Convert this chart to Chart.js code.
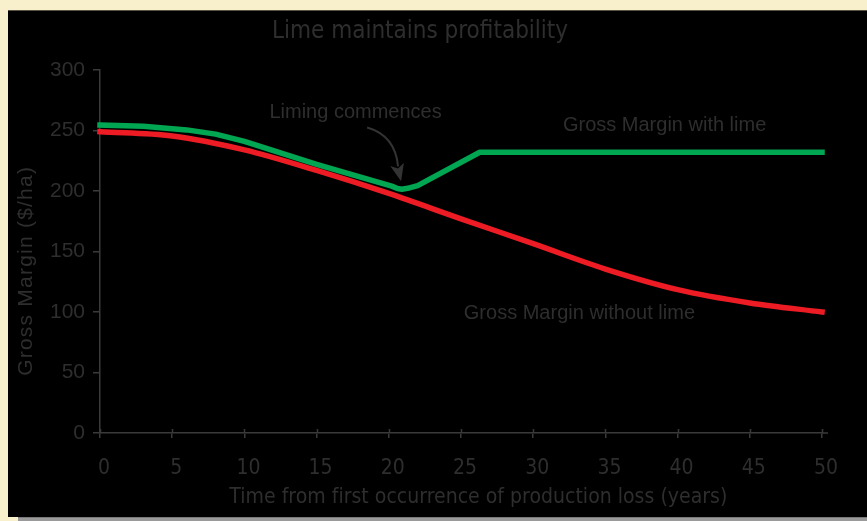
<!DOCTYPE html>
<html>
<head>
<meta charset="utf-8">
<script src="https://cdn.jsdelivr.net/npm/chart.js@4.4.1/dist/chart.umd.min.js"></script>
<style>
  html, body { margin: 0; padding: 0; background: #f8efcc; }
  canvas { display: block; }
</style>
</head>
<body>
<canvas id="c" width="867" height="521" style="width:867px;height:521px"></canvas>
<script>
// ---- Data ----
const chartTitle = "Lime maintains profitability";
const xTitle = "Time from first occurrence of production loss (years)";
const yTitle = "Gross Margin ($/ha)";

const withoutLimeYears = [0, 5, 10, 15, 20, 25, 30, 35, 40, 45, 50];
const withoutLimeValues = [249, 245.5, 234, 217, 198, 177, 156.5, 135.5, 118.5, 107.5, 100];

const withLimeYears = [0, 3, 6, 8, 10, 15, 20.2, 20.6, 20.9, 21.3, 22, 26.3, 50];
const withLimeValues = [254.5, 253.5, 250.5, 247, 241, 222, 204, 202, 201.5, 202.2, 204.5, 232, 232];

const xTickValues = [0, 5, 10, 15, 20, 25, 30, 35, 40, 45, 50];
const yTickValues = [0, 50, 100, 150, 200, 250, 300];

const labelLiming = "Liming commences";
const labelWith = "Gross Margin with lime";
const labelWithout = "Gross Margin without lime";

// ---- Styles ----
const TEXT = '#2e2e2e';
const AXIS = '#3a3a3a';
const NARROW = '"Liberation Sans Narrow", "DejaVu Sans Condensed", "Liberation Sans", sans-serif';
const SANS = '"Liberation Sans", Arial, sans-serif';

function drawSpaced(ctx, text, cx, cy, font, targetWidth) {
  ctx.save();
  ctx.font = font;
  ctx.letterSpacing = '0px';
  const w = ctx.measureText(text).width;
  const sp = Math.max(0, (targetWidth - w) / text.length);
  ctx.letterSpacing = sp + 'px';
  ctx.textAlign = 'center';
  ctx.textBaseline = 'middle';
  ctx.fillText(text, cx + sp / 2, cy);
  ctx.restore();
}

const decor = {
  id: 'decor',
  beforeDraw(chart) {
    const ctx = chart.ctx;
    ctx.save();
    ctx.fillStyle = '#f8efcc';
    ctx.fillRect(0, 0, chart.width, chart.height);
    ctx.fillStyle = '#000000';
    ctx.fillRect(8, 10, 859, 507);
    ctx.fillStyle = '#5a5242';
    ctx.fillRect(8, 10, 859, 1);
    ctx.fillStyle = '#9a9a9a';
    ctx.fillRect(18, 517, 849, 4);
    ctx.fillStyle = '#7a7a7a';
    ctx.fillRect(18, 517, 849, 1);
    ctx.restore();
  },
  afterDraw(chart) {
    const ctx = chart.ctx;
    const xs = chart.scales.x, ys = chart.scales.y;
    ctx.save();
    // upward half of the crossing x ticks and axis overhang
    ctx.strokeStyle = AXIS;
    ctx.lineWidth = 1.5;
    ctx.beginPath();
    xTickValues.forEach(v => {
      const px = Math.round(xs.getPixelForValue(v)) + 0.5;
      ctx.moveTo(px, ys.bottom);
      ctx.lineTo(px, ys.bottom - 4);
    });
    ctx.moveTo(xs.right, ys.bottom);
    ctx.lineTo(xs.right + 6, ys.bottom);
    ctx.stroke();

    ctx.fillStyle = TEXT;
    // chart title
    drawSpaced(ctx, chartTitle, 420, 32, '24px ' + NARROW, 296);
    // x axis title
    drawSpaced(ctx, xTitle, xs.getPixelForValue(26.2), 498, '21px ' + NARROW, 498);
    // y axis title (rotated)
    ctx.save();
    ctx.translate(26, ys.getPixelForValue(133.5));
    ctx.rotate(-Math.PI / 2);
    drawSpaced(ctx, yTitle, 0, 0, '21px ' + SANS, 210);
    ctx.restore();

    // annotations (anchored in data coordinates)
    ctx.font = '20px ' + SANS;
    ctx.textAlign = 'center';
    ctx.textBaseline = 'middle';
    ctx.fillText(labelLiming, xs.getPixelForValue(17.7), ys.getPixelForValue(264.5));
    ctx.fillText(labelWith, xs.getPixelForValue(39.1), ys.getPixelForValue(254.5));
    ctx.fillText(labelWithout, xs.getPixelForValue(33.2), ys.getPixelForValue(98.5));

    // curved arrow pointing to the start of liming
    const sx = xs.getPixelForValue(18.5), sy = ys.getPixelForValue(252.5);
    const tx = xs.getPixelForValue(20.85), ty = ys.getPixelForValue(208);
    const bx = tx - 4, by = ty - 17;
    ctx.strokeStyle = '#333333';
    ctx.fillStyle = '#333333';
    ctx.lineWidth = 2;
    ctx.beginPath();
    ctx.moveTo(sx, sy);
    ctx.quadraticCurveTo(sx + 28, sy + 8, bx + 1, by + 2);
    ctx.stroke();
    const dx = tx - bx, dy = ty - by, L = Math.hypot(dx, dy);
    const nx = -dy / L, ny = dx / L;
    ctx.beginPath();
    ctx.moveTo(tx, ty);
    ctx.lineTo(bx + nx * 7, by + ny * 7);
    ctx.lineTo(bx + dx * 0.25, by + dy * 0.25);
    ctx.lineTo(bx - nx * 7, by - ny * 7);
    ctx.closePath();
    ctx.fill();
    ctx.restore();
  }
};

const toXY = (xsArr, ysArr) => xsArr.map((x, i) => ({ x, y: ysArr[i] }));

new Chart(document.getElementById('c'), {
  type: 'line',
  data: {
    datasets: [
      {
        label: labelWithout,
        data: toXY(withoutLimeYears, withoutLimeValues),
        borderColor: '#ed1c24',
        borderWidth: 5.5,
        pointRadius: 0,
        cubicInterpolationMode: 'monotone',
        fill: false,
        clip: false,
        borderCapStyle: 'square'
      },
      {
        label: labelWith,
        data: toXY(withLimeYears, withLimeValues),
        borderColor: '#00a651',
        borderWidth: 5.5,
        pointRadius: 0,
        tension: 0,
        borderJoinStyle: 'round',
        fill: false,
        clip: false,
        borderCapStyle: 'square'
      }
    ]
  },
  options: {
    responsive: false,
    devicePixelRatio: 1,
    animation: false,
    layout: { padding: { left: 8, right: 45, top: 70, bottom: 0 } },
    plugins: {
      legend: { display: false },
      title: { display: false },
      tooltip: { enabled: false }
    },
    scales: {
      x: {
        type: 'linear',
        min: 0,
        max: 50,
        afterFit: s => { s.height = 88; },
        afterBuildTicks: s => { s.ticks = xTickValues.map(v => ({ value: v })); },
        ticks: {
          color: TEXT,
          font: { family: NARROW, size: 21 },
          padding: 18,
          labelOffset: 4,
          maxRotation: 0,
          autoSkip: false
        },
        grid: { drawOnChartArea: false, drawTicks: true, tickLength: 5, color: AXIS, lineWidth: 1.5 },
        border: { display: true, color: AXIS, width: 1.5 }
      },
      y: {
        min: 0,
        max: 300,
        afterFit: s => { s.width = 92; },
        afterBuildTicks: s => { s.ticks = yTickValues.map(v => ({ value: v })); },
        ticks: {
          color: TEXT,
          font: { family: SANS, size: 21 },
          padding: 8
        },
        grid: { drawOnChartArea: false, drawTicks: true, tickLength: 7, color: AXIS, lineWidth: 1.5 },
        border: { display: true, color: AXIS, width: 1.5 }
      }
    }
  },
  plugins: [decor]
});
</script>
</body>
</html>
